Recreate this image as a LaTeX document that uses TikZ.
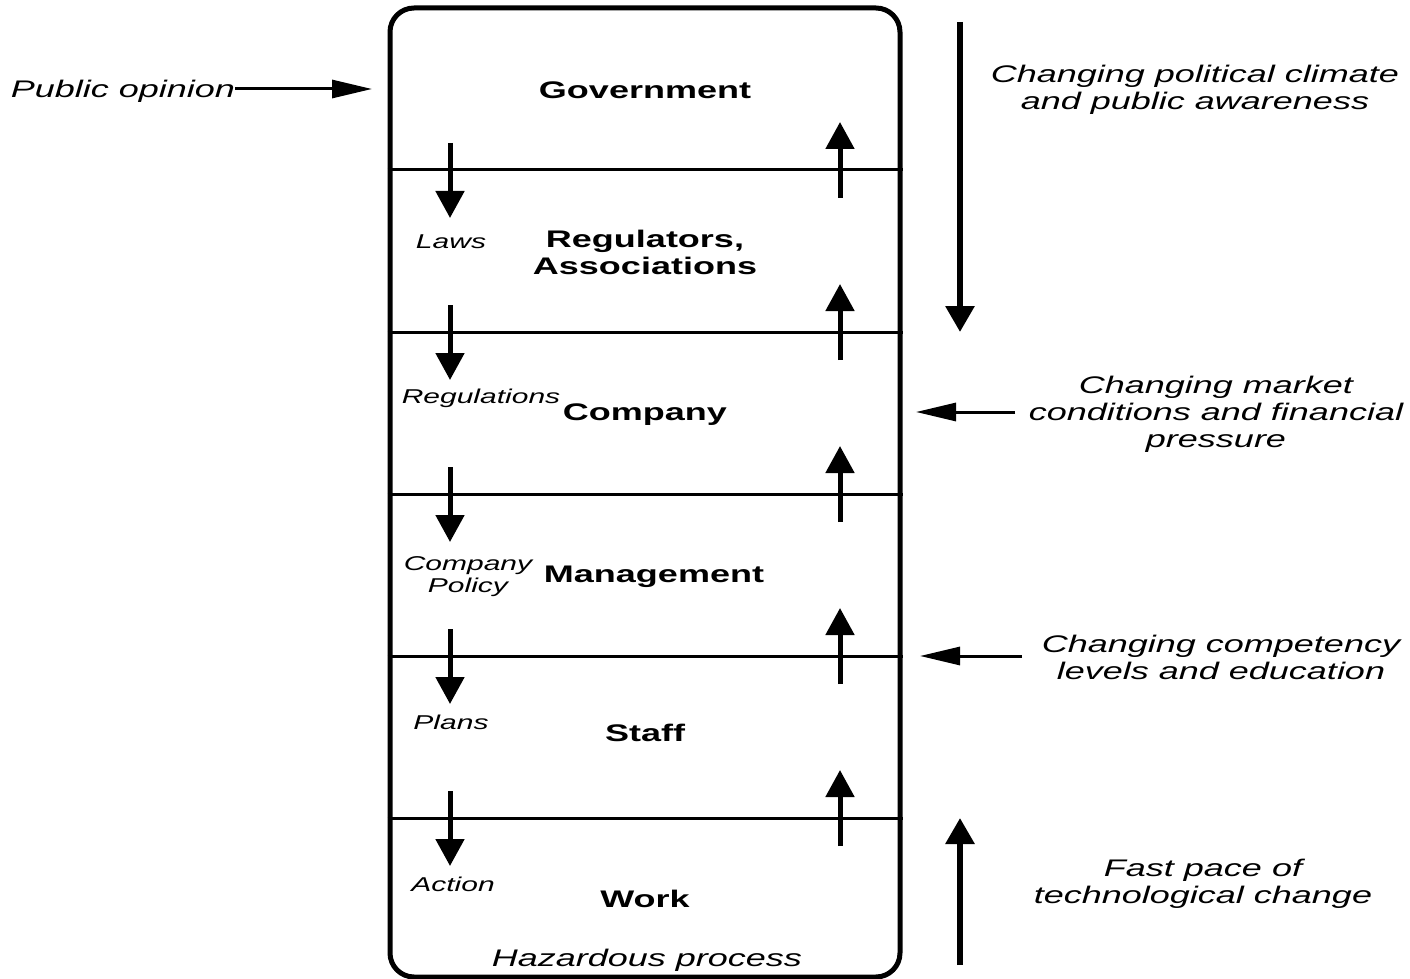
\documentclass[tikz,border=0pt]{standalone}
\usepackage{fontspec}
\setmainfont{Liberation Sans}[FakeStretch=1.5]
\usetikzlibrary{arrows.meta, positioning}

\begin{document}
\begin{tikzpicture}[
        x=0.5pt, y=-0.5pt,
        layer/.style={font=\fontsize{12}{13.5}\selectfont\bfseries, align=center, inner sep=0pt, yshift=-1pt},
        lbl/.style={font=\fontsize{10}{11}\selectfont\itshape, align=center, inner sep=0pt, yshift=-1pt},
        side/.style={font=\fontsize{12}{13.5}\selectfont\itshape, align=center, inner sep=0pt, yshift=-1pt},
        divider/.style={line width=1.5pt},
        flow/.style={line width=2.5pt, -{Triangle[length=13.5pt, width=14pt]}},
        bigflow/.style={line width=3pt, -{Triangle[length=13pt, width=14pt]}},
        push/.style={line width=1.5pt, -{Triangle[length=20pt, width=9pt]}}
    ]
        \useasboundingbox (0,0) rectangle (1410,979);

        % Frame of the socio-technical system
        \node[draw, line width=2.5pt, rounded corners=12pt, minimum width=255pt, minimum height=484.5pt, inner sep=0pt] (frame) at (645,492.5) {};

        % Levels
        \node[layer] (gov) at (645,88) {Government};
        \node[layer] (reg) at (645,250) {Regulators,\\Associations};
        \node[layer] (comp) at (645,413) {Company};
        \node[layer] (mgmt) at (654,575) {Management};
        \node[layer] (staff) at (645,731) {Staff};
        \node[layer] (work) at (645,897) {Work};
        \node[side] (haz) at (647,958) {Hazardous process};

        % Dividers with control (down) and feedback (up)
        \foreach \y [count=\i] in {170,332,494,656,818} {
            \coordinate (d\i) at (645,\y);
            \draw[divider] (frame.west |- d\i) -- (frame.east |- d\i);
            \coordinate (dtop\i) at (450,\y-27);
            \coordinate (dbot\i) at (450,\y+48);
            \draw[flow] (dtop\i) -- (dbot\i);
            \coordinate (ubot\i) at (840,\y+28);
            \coordinate (utop\i) at (840,\y-48);
            \draw[flow] (ubot\i) -- (utop\i);
        }

        % Labels of the downward arrows
        \node[lbl] (laws) at (451,240) {Laws};
        \node[lbl] (regs) at (481,396) {Regulations};
        \node[lbl] (policy) at (468,575) {Company\\Policy};
        \node[lbl] (plans) at (451,720) {Plans};
        \node[lbl] (action) at (453,882) {Action};

        % Outside pressures
        \node[side] (public) at (123,89) {Public opinion};
        \coordinate (pubtip) at (372,89);
        \draw[push] (public.east |- pubtip) -- (pubtip);

        \node[side] (climate) at (1195,88) {Changing political climate\\and public awareness};
        \coordinate (cl0) at (960,22);
        \coordinate (cl1) at (960,332);
        \draw[bigflow] (cl0) -- (cl1);

        \node[side] (market) at (1216,412) {Changing market\\conditions and financial\\pressure};
        \coordinate (mk0) at (1015,412);
        \coordinate (mk1) at (916,412);
        \draw[push] (mk0) -- (mk1);

        \node[side] (skills) at (1221,655) {Changing competency\\levels and education};
        \coordinate (sk0) at (1022,656);
        \coordinate (sk1) at (920,656);
        \draw[push] (sk0) -- (sk1);

        \node[side] (tech) at (1203,882) {Fast pace of\\technological change};
        \coordinate (te0) at (960,965);
        \coordinate (te1) at (960,818);
        \draw[bigflow] (te0) -- (te1);

    \end{tikzpicture}
\end{document}
